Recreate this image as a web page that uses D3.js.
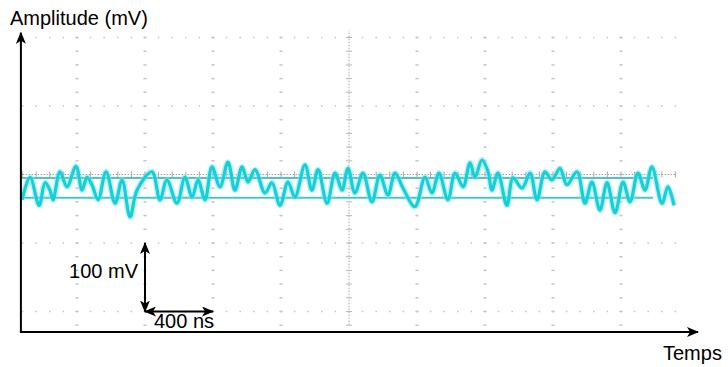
<!DOCTYPE html>
<html><head><meta charset="utf-8">
<script src="https://cdn.jsdelivr.net/npm/d3@7/dist/d3.min.js"></script>
<style>html,body{margin:0;padding:0;background:#fff}svg{display:block}</style>
</head><body>
<script>
// ---- data (time in ns, amplitude in mV, 0 at screen centre) ----
const sampleTimes = [-1923,-1876,-1823,-1788,-1759,-1741,-1700,-1659,-1606,-1570,-1541,-1512,-1476,-1429,-1376,-1335,-1288,-1247,-1159,-1112,-1071,-1012,-965,-923,-888,-847,-806,-759,-712,-671,-629,-594,-553,-494,-453,-406,-359,-318,-259,-218,-182,-129,-82,-41,-6,35,82,135,182,229,271,318,388,447,488,529,582,624,671,712,741,782,818,841,876,929,965,1018,1065,1106,1153,1194,1241,1282,1341,1388,1429,1476,1518,1565,1612,1653,1700,1741,1782,1841,1876,1912];
const sampleAmps = [-37,-4,-45,-12,-23,-37,4,-18,12,-23,-4,-15,-37,4,-42,-8,-62,-23,4,-37,-8,-42,-4,-33,-8,-37,11,-18,18,-23,11,-11,7,-27,-12,-45,-11,-33,14,-23,7,-42,2,-23,9,-27,2,-40,-1,-30,2,-20,-47,-4,-27,2,-37,2,-18,17,-4,21,4,-23,2,-45,-5,-20,2,-37,4,-8,9,-15,4,-42,-11,-52,-12,-56,-11,-40,2,-23,11,-42,-18,-45];
const refLevels = [-5, -34];          // mV, horizontal reference traces
const refSpan = [-1930, 1788];        // ns
const gridTimes = [-1600,-1200,-800,-400,0,400,800,1200,1600];
const gridAmps = [-200,-100,0,100,200];
const minorTime = 80, minorAmp = 20;
const axisTime = [-1930, 2053];
const axisAmp = [-230, 207];
const scaleBarTime = [-1200, -800];   // 400 ns
const scaleBarAmp = [-200, -100];     // 100 mV
const labels = {yTitle: "Amplitude (mV)", xTitle: "Temps", amp: "100 mV", time: "400 ns"};

// ---- drawing ----
const W = 728, H = 367;
const x = d3.scaleLinear().domain([-1600, 1600]).range([77, 621]);
const y = d3.scaleLinear().domain([-200, 200]).range([311.5, 37.5]);
const svg = d3.select("body").append("svg").attr("width", W).attr("height", H);
const font = "Liberation Sans, Arial, sans-serif";
const gridCol = "#c4c4c4";

const defs = svg.append("defs");
defs.append("marker").attr("id", "arr").attr("viewBox", "0 0 12 10").attr("refX", 11).attr("refY", 5)
  .attr("markerWidth", 12).attr("markerHeight", 10).attr("markerUnits", "userSpaceOnUse").attr("orient", "auto-start-reverse")
  .append("path").attr("d", "M0,0 L12,5 L0,10 L3,5 Z").attr("fill", "#000");

const g = svg.append("g");
const minorT = d3.range(-1920, 1920 + 1, minorTime);
const minorA = d3.range(-220, 200 + 1, minorAmp);

// row dots
gridAmps.filter(a => a !== 0).forEach(a => {
  g.selectAll(null).data(minorT).join("rect")
    .attr("x", t => x(t) - 0.75).attr("y", y(a) - 0.75).attr("width", 1.5).attr("height", 1.5).attr("fill", gridCol);
});
// column dashes
gridTimes.filter(t => t !== 0).forEach(t => {
  g.selectAll(null).data(minorA).join("rect")
    .attr("x", x(t) - 1.5).attr("y", a => y(a) - 0.75).attr("width", 3).attr("height", 1.5).attr("fill", gridCol);
});
// centre lines
g.append("line").attr("x1", x(-1920)).attr("x2", x(1920)).attr("y1", y(0)).attr("y2", y(0))
  .attr("stroke", "#a0a0a0").attr("stroke-width", 1).attr("stroke-dasharray", "1.5,1.5");
g.append("line").attr("x1", x(0)).attr("x2", x(0)).attr("y1", y(-220)).attr("y2", y(210))
  .attr("stroke", "#aaaaaa").attr("stroke-width", 1).attr("stroke-dasharray", "1.5,1.5");
g.selectAll(null).data(minorT).join("line")
  .attr("x1", t => x(t)).attr("x2", t => x(t)).attr("y1", y(0) - 3).attr("y2", y(0) + 3)
  .attr("stroke", "#aaaaaa").attr("stroke-width", 1);
g.selectAll(null).data(minorA).join("line")
  .attr("x1", x(0) - 3).attr("x2", x(0) + 3).attr("y1", a => y(a)).attr("y2", a => y(a))
  .attr("stroke", "#b8b8b8").attr("stroke-width", 1);

// reference traces
refLevels.forEach(v => {
  svg.append("line").attr("x1", x(refSpan[0])).attr("x2", x(refSpan[1])).attr("y1", y(v)).attr("y2", y(v))
    .attr("stroke", "#4cc4cc").attr("stroke-width", 2);
});

// signal
const pts = sampleTimes.map((t, i) => [t, sampleAmps[i]]);
const line = d3.line().x(d => x(d[0])).y(d => y(d[1])).curve(d3.curveCatmullRom.alpha(0.5));
svg.append("path").datum(pts).attr("d", line).attr("fill", "none")
  .attr("stroke", "#7ae6ea").attr("stroke-width", 6).attr("stroke-linejoin", "round").attr("opacity", 0.5);
svg.append("path").datum(pts).attr("d", line).attr("fill", "none")
  .attr("stroke", "#17cfd6").attr("stroke-width", 3.2).attr("stroke-linejoin", "round");

// axes
svg.append("line").attr("x1", x(axisTime[0])).attr("y1", y(axisAmp[0])).attr("x2", x(axisTime[0])).attr("y2", y(axisAmp[1]))
  .attr("stroke", "#000").attr("stroke-width", 2).attr("marker-end", "url(#arr)");
svg.append("line").attr("x1", x(axisTime[0]) - 1).attr("y1", y(axisAmp[0])).attr("x2", x(axisTime[1])).attr("y2", y(axisAmp[0]))
  .attr("stroke", "#000").attr("stroke-width", 2).attr("marker-end", "url(#arr)");

// scale bars
svg.append("line").attr("x1", x(scaleBarTime[0])).attr("x2", x(scaleBarTime[0]))
  .attr("y1", y(scaleBarAmp[0])).attr("y2", y(scaleBarAmp[1]))
  .attr("stroke", "#000").attr("stroke-width", 2).attr("marker-start", "url(#arr)").attr("marker-end", "url(#arr)");
svg.append("line").attr("x1", x(scaleBarTime[0])).attr("x2", x(scaleBarTime[1]))
  .attr("y1", y(scaleBarAmp[0])).attr("y2", y(scaleBarAmp[0]))
  .attr("stroke", "#000").attr("stroke-width", 2).attr("marker-start", "url(#arr)").attr("marker-end", "url(#arr)");

// texts
const txt = (s, xx, yy, anchor) => svg.append("text").attr("x", xx).attr("y", yy).attr("text-anchor", anchor || "start")
  .attr("font-family", font).attr("font-size", 20).attr("fill", "#000").text(s);
txt(labels.yTitle, 10, 25);
txt(labels.xTitle, 663, 360);
txt(labels.amp, x(scaleBarTime[0]) - 7, 278, "end");
txt(labels.time, x(scaleBarTime[0]) + 9, 328);
</script>
</body></html>
